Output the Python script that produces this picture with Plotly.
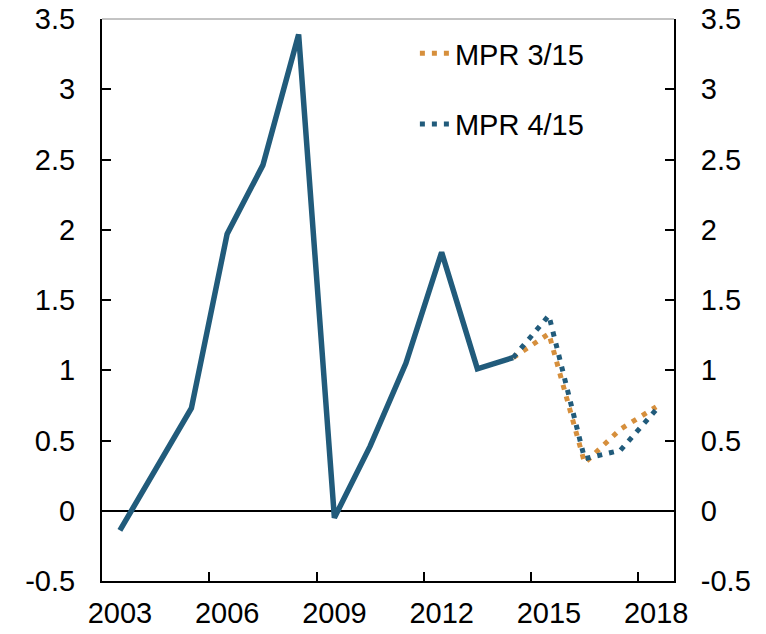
import plotly.graph_objects as go

years = [str(y) for y in range(2003, 2019)]
hist_years = [str(y) for y in range(2003, 2015)]
hist_values = [-0.14, 0.29, 0.73, 1.97, 2.46, 3.39, -0.05, 0.46, 1.05, 1.84, 1.01, 1.09]
proj_years = ["2014", "2015", "2016", "2017", "2018"]
mpr_315 = [1.09, 1.26, 0.34, 0.58, 0.74]
mpr_415 = [1.09, 1.39, 0.37, 0.43, 0.72]
y_tickvals = [-0.5, 0, 0.5, 1, 1.5, 2, 2.5, 3, 3.5]
y_ticktext = ["-0.5", "0", "0.5", "1", "1.5", "2", "2.5", "3", "3.5"]

BLUE = "#215b7b"
ORANGE = "#d68f3c"
FONT = "Liberation Sans, Arial, sans-serif"
FS = 29

fig = go.Figure()
fig.add_trace(go.Scatter(x=hist_years, y=hist_values, mode="lines",
                         line=dict(color=BLUE, width=5.5), showlegend=False,
                         hoverinfo="skip"))
fig.add_trace(go.Scatter(x=proj_years, y=mpr_315, mode="lines", name="MPR 3/15",
                         legendgroup="a",
                         line=dict(color=ORANGE, width=5, dash="5px,7px")))
fig.add_trace(go.Scatter(x=proj_years, y=mpr_415, mode="lines", name="MPR 4/15",
                         legendgroup="b",
                         line=dict(color=BLUE, width=5, dash="5px,7px")))
# invisible trace to anchor the right-hand axis
fig.add_trace(go.Scatter(x=hist_years, y=hist_values, yaxis="y2", mode="lines",
                         line=dict(width=0), opacity=0, showlegend=False,
                         hoverinfo="skip"))

yax = dict(range=[-0.5, 3.5], tickmode="array", tickvals=y_tickvals,
           ticktext=y_ticktext, ticks="inside", ticklen=9, tickwidth=1.5,
           tickcolor="black", showline=True, linecolor="black", linewidth=2,
           showgrid=False, ticklabelstandoff=19, automargin=False,
           ticklabeloverflow="allow", tickfont=dict(size=FS))

fig.update_layout(
    width=758, height=626,
    margin=dict(l=94, r=92, t=11, b=53),
    paper_bgcolor="white", plot_bgcolor="white",
    font=dict(family=FONT, size=FS, color="black"),
    showlegend=True,
    legend=dict(x=0.547, y=0.984, xanchor="left", yanchor="top",
                bgcolor="rgba(0,0,0,0)", tracegroupgap=30,
                font=dict(size=FS), traceorder="grouped"),
    xaxis=dict(type="category", categoryorder="array", categoryarray=years,
               range=[-0.5, 15.5], dtick=3, tick0=0, tickson="boundaries",
               tickangle=0, automargin=False, ticklabeloverflow="allow",
               ticks="inside", ticklen=9, tickwidth=1.5, tickcolor="black",
               showline=True, linecolor="black", linewidth=2,
               showgrid=False, zeroline=False, ticklabelstandoff=5,
               tickfont=dict(size=FS)),
    yaxis=dict(**yax, zeroline=True, zerolinecolor="black", zerolinewidth=1.5),
    yaxis2=dict(**yax, overlaying="y", side="right", matches="y", zeroline=False),
    shapes=[dict(type="line", xref="paper", yref="paper", x0=0, x1=1, y0=1, y1=1,
                 line=dict(color="#888888", width=1))],
)

fig.write_html("out.html")
